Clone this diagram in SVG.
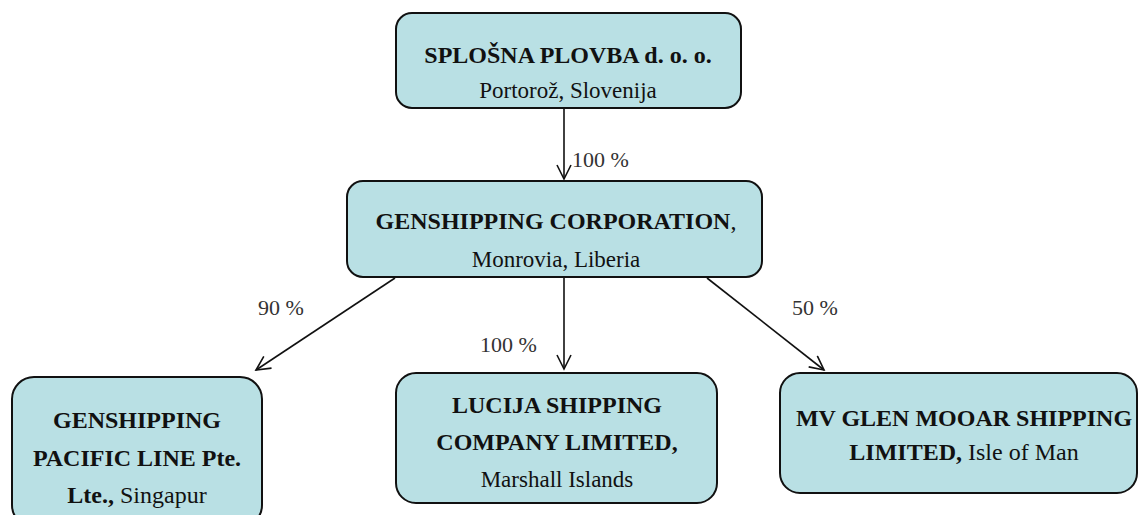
<svg xmlns="http://www.w3.org/2000/svg" width="1139" height="515" viewBox="0 0 1139 515">
<style>
.box{fill:#b9e0e4;stroke:#111;stroke-width:2}
text{font-family:"Liberation Serif","Times New Roman",serif;fill:#111;text-anchor:middle}
.b{font-weight:bold;font-size:24px}
.r{font-size:23px}
.lbl{font-size:22px;fill:#333;text-anchor:start}
.c{stroke:#111;stroke-width:1.6;fill:none}
.ah{stroke:#111;stroke-width:1.6;fill:none}
</style>
<defs>
<marker id="arr" markerWidth="20" markerHeight="20" refX="15" refY="8" orient="auto" markerUnits="userSpaceOnUse">
<path class="ah" d="M1,1 L15,8 L1,15"/>
</marker>
</defs>
<g id="connectors">
<line class="c" x1="564" y1="108" x2="564" y2="179" marker-end="url(#arr)"/>
<line class="c" x1="395" y1="278" x2="256" y2="370" marker-end="url(#arr)"/>
<line class="c" x1="564" y1="278" x2="564" y2="369" marker-end="url(#arr)"/>
<line class="c" x1="707" y1="278" x2="824" y2="370" marker-end="url(#arr)"/>
<text class="lbl" x="572" y="167">100 %</text>
<text class="lbl" x="258" y="315">90 %</text>
<text class="lbl" x="480" y="352">100 %</text>
<text class="lbl" x="792" y="315">50 %</text>
</g>
<g id="splosna">
<rect class="box" x="396" y="13" width="345" height="95" rx="16"/>
<text class="b" x="568" y="63">SPLOŠNA PLOVBA d. o. o.</text>
<text class="r" x="568" y="98">Portorož, Slovenija</text>
</g>
<g id="genshipping">
<rect class="box" x="347" y="181" width="415" height="96" rx="16"/>
<text class="b" x="556" y="229">GENSHIPPING CORPORATION<tspan font-weight="normal">,</tspan></text>
<text class="r" x="556" y="267">Monrovia, Liberia</text>
</g>
<g id="pacific">
<rect class="box" x="12" y="377" width="250" height="150" rx="22"/>
<text class="b" x="137" y="428">GENSHIPPING</text>
<text class="b" x="137" y="466">PACIFIC LINE Pte.</text>
<text class="b" x="137" y="503">Lte., <tspan font-weight="normal">Singapur</tspan></text>
</g>
<g id="lucija">
<rect class="box" x="396" y="373" width="321" height="130" rx="20"/>
<text class="b" x="557" y="413">LUCIJA SHIPPING</text>
<text class="b" x="557" y="450">COMPANY LIMITED,</text>
<text class="r" x="557" y="487">Marshall Islands</text>
</g>
<g id="glenmooar">
<rect class="box" x="780" y="373" width="357" height="120" rx="20"/>
<text class="b" x="964" y="426">MV GLEN MOOAR SHIPPING</text>
<text class="b" x="964" y="460">LIMITED, <tspan font-weight="normal">Isle of Man</tspan></text>
</g>
</svg>
